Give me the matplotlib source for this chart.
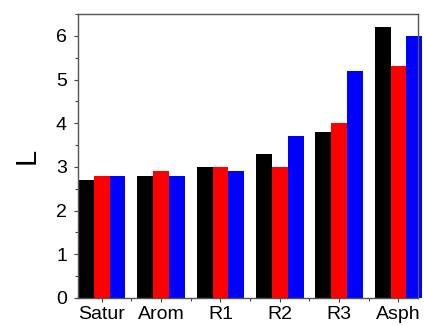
import numpy as np
import matplotlib.pyplot as plt
from matplotlib.ticker import MultipleLocator

plt.rcParams['font.family'] = ['Liberation Sans', 'DejaVu Sans']

groups = ['Satur', 'Arom', 'R1', 'R2', 'R3', 'Asph']
black_vals = [2.7, 2.8, 3.0, 3.3, 3.8, 6.2]
red_vals = [2.8, 2.9, 3.0, 3.0, 4.0, 5.3]
blue_vals = [2.8, 2.8, 2.9, 3.7, 5.2, 6.0]

x = np.arange(len(groups))
w = 0.8 / 3

fig = plt.figure(figsize=(4.24, 3.26), dpi=100)
ax = fig.add_axes([0.184, 0.086, 0.802, 0.871])
ax.bar(x - w, black_vals, w, color='black', clip_on=False)
ax.bar(x, red_vals, w, color='#ff0000', clip_on=False)
ax.bar(x + w, blue_vals, w, color='#0000ff', clip_on=False)

ax.set_xlim(-0.4, 5.33)
ax.set_ylim(0, 6.5)
ax.set_xticks(x)
ax.set_xticklabels(groups)
ax.xaxis.set_minor_locator(MultipleLocator(1, offset=0.5))
ax.yaxis.set_major_locator(MultipleLocator(1))
ax.yaxis.set_minor_locator(MultipleLocator(0.5))
ax.tick_params(which='major', direction='out', length=3, width=0.8,
               labelsize=14, color='#444444')
ax.tick_params(axis='y', which='major', pad=5)
ax.tick_params(axis='x', which='major', pad=3)
ax.tick_params(which='minor', direction='out', length=2, width=0.8,
               color='#444444')
for s in ax.spines.values():
    s.set_color('#555555')
    s.set_linewidth(1.0)
ax.set_ylabel('L', fontsize=21, labelpad=11)

fig.savefig('out.png', dpi=100)
